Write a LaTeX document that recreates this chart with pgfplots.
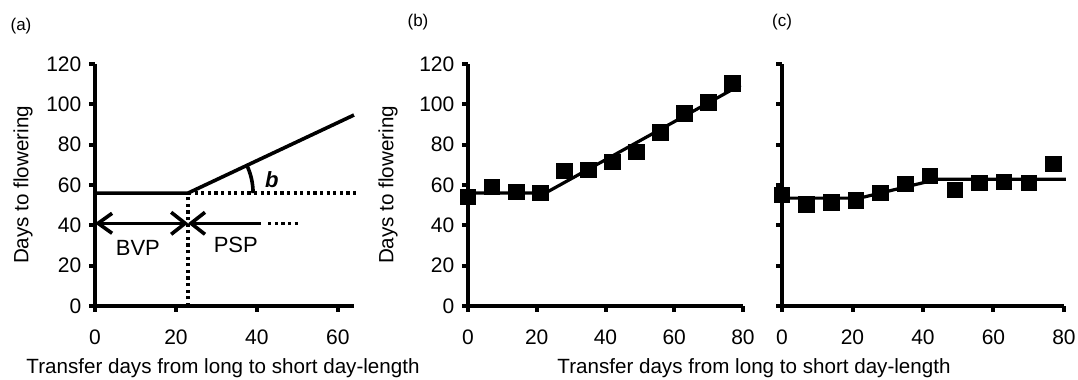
\documentclass[border=0pt]{standalone}
\usepackage{pgfplots}
\pgfplotsset{compat=1.18}
\usetikzlibrary{arrows.meta}
\usepackage{fontspec}
\setmainfont{Liberation Sans}
\begin{document}
\begin{tikzpicture}[font=\fontsize{10.3}{12}\selectfont]
\useasboundingbox (0,0) rectangle (539pt,190pt);
\pgfplotsset{
 myax/.style={
  scale only axis, anchor=south west,
  ymin=0, ymax=120, xmin=0,
  axis lines=left,
  axis line style={line width=2pt, -},
  every tick/.style={line width=2pt, black},
  major tick length=2.8pt,
  tick align=outside,
  ytick={0,20,...,120},
  xtick={0,20,...,80},
  /pgf/number format/assume math mode=true,
  ticklabel style={font=\fontsize{10.5}{12}\selectfont},
  xticklabel style={yshift=-5.5pt},
  yticklabel style={xshift=-0.5pt},
  clip=false,
  height=121pt,
 },
 dat/.style={only marks, mark=square*, mark size=3.9pt, black},
 fit/.style={black, line width=1.6pt, no marks},
 dots/.style={black, line width=1.8pt, dash pattern=on 1.6pt off 1.7pt},
}
% ---------------- (a)
\begin{axis}[myax, at={(47.5pt,37pt)}, width=129.5pt, xmax=64]
\addplot[black, line width=1.8pt] coordinates {(0,56) (23,56) (64,94.7)};
\addplot[dots] coordinates {(23,56) (65,56)};
\addplot[dots] coordinates {(23,0) (23,56)};
\addplot[black, line width=1.8pt, {Straight Barb[length=7pt,width=10pt]}-{Straight Barb[length=7pt,width=11pt]}] coordinates {(0,41) (23,41)};
\addplot[black, line width=1.8pt, {Straight Barb[length=7pt,width=11pt]}-] coordinates {(23,41) (41,41)};
\addplot[dots] coordinates {(42.8,41) (50.5,41)};
\draw[line width=1.8pt] (axis cs:23,56) ++(32.5pt,0) arc[start angle=0, end angle=25.2, radius=32.5pt];
\node[font=\fontsize{11}{12}\selectfont] at (axis cs:43.7,62.5) {\bfseries\itshape b};
\node[font=\fontsize{11}{12}\selectfont] at (axis cs:10.6,28.8) {BVP};
\node[font=\fontsize{11}{12}\selectfont] at (axis cs:34.8,30.2) {PSP};
\end{axis}
% ---------------- (b)
\begin{axis}[myax, at={(234pt,37pt)}, width=137.5pt, xmax=80]
\addplot[fit] coordinates {(0,56) (22.5,56) (79.3,109.6)};
\addplot[dat] coordinates {(0,54) (7,59) (14,56.5) (21,56) (28,67) (35,67.5) (42,71.5) (49,76.5) (56,86) (63,95.5) (70,101) (77,110.5)};
\end{axis}
% ---------------- (c)
\begin{axis}[myax, at={(391pt,37pt)}, width=141pt, xmax=80, yticklabels={}]
\addplot[fit] coordinates {(0,53.5) (22,53.5) (44,62.8) (80.5,62.8)};
\addplot[dat] coordinates {(0,55) (7,50.5) (14,51.5) (21,52.5) (28,56) (35,60.5) (42,64.5) (49,57.5) (56,61) (63,61.5) (70,61) (77,70.5)};
\end{axis}
% labels
\node[rotate=90] at (11.5pt,97.5pt) {Days to flowering};
\node[rotate=90] at (194pt,97.5pt) {Days to flowering};
\node at (111.5pt,6pt) {Transfer days from long to short day-length};
\node at (377pt,6pt) {Transfer days from long to short day-length};
\node[font=\fontsize{8.5}{10}\selectfont] at (10.5pt,177pt) {(a)};
\node[font=\fontsize{8.5}{10}\selectfont] at (209pt,179pt) {(b)};
\node[font=\fontsize{8.5}{10}\selectfont] at (391pt,179pt) {(c)};
\end{tikzpicture}
\end{document}
